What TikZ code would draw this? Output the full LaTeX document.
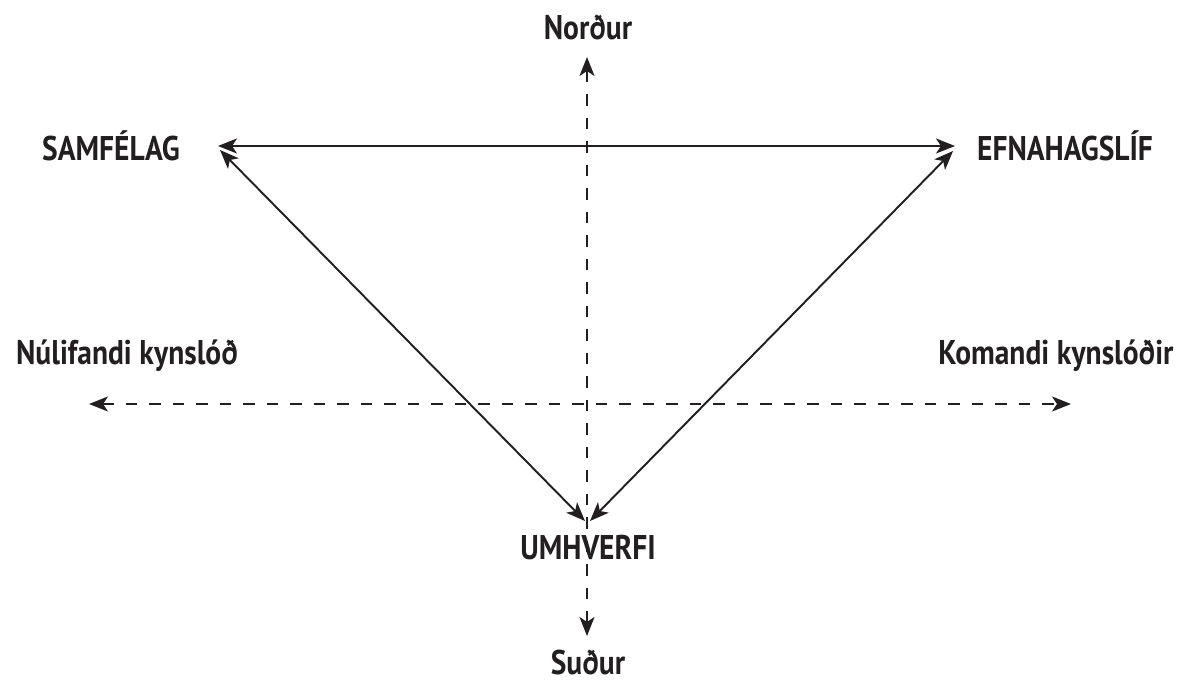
\documentclass[tikz,border=0pt]{standalone}
\usepackage{fontspec}
\setmainfont{PT Sans}[FakeStretch=0.86]
\usetikzlibrary{arrows.meta, positioning, calc}
\definecolor{dkgray}{RGB}{35,31,32}

\begin{document}
\begin{tikzpicture}[x=0.02cm, y=-0.02cm,
  lbl/.style={text=dkgray, font=\fontsize{19.5}{22}\selectfont\bfseries, inner sep=0pt},
  arr/.style={{Stealth[length=3.8mm, width=3mm, inset=1mm]}-{Stealth[length=3.8mm, width=3mm, inset=1mm]}, line width=1.1pt, draw=dkgray},
  axis/.style={arr, dash pattern=on 2.3mm off 2.4mm}
]
\useasboundingbox (0,0) rectangle (1179,683);
% labels
\node[lbl] (north) at (588,27) {Norður};
\node[lbl] (south) at (588,662) {Suður};
\node[lbl] (samf) at (111,146) {SAMFÉLAG};
\node[lbl] (efna) at (1065,146) {EFNAHAGSLÍF};
\node[lbl] (nuli) at (127,356) {Núlifandi kynslóð};
\node[lbl] (koma) at (1056,356) {Komandi kynslóðir};
\node[lbl] (umhv) at (588,548) {UMHVERFI};
% corners of the triangle
\coordinate (tl) at (218,146);
\coordinate (tr) at (955,146);
\coordinate (bl) at (585,521);
\coordinate (br) at (590,521);
% axes
\coordinate (ntip) at (587,57);
\coordinate (stip) at (587,636);
\coordinate (wtip) at (89,404);
\coordinate (etip) at (1071,404);
\draw[axis] (stip) -- (ntip);
\draw[axis] (wtip) -- (etip);
% triangle
\draw[arr] (tl) -- (tr);
\draw[arr] ($(tl)+(2,4)$) -- (bl);
\draw[arr] ($(tr)+(-2,5)$) -- (br);
\end{tikzpicture}
\end{document}
